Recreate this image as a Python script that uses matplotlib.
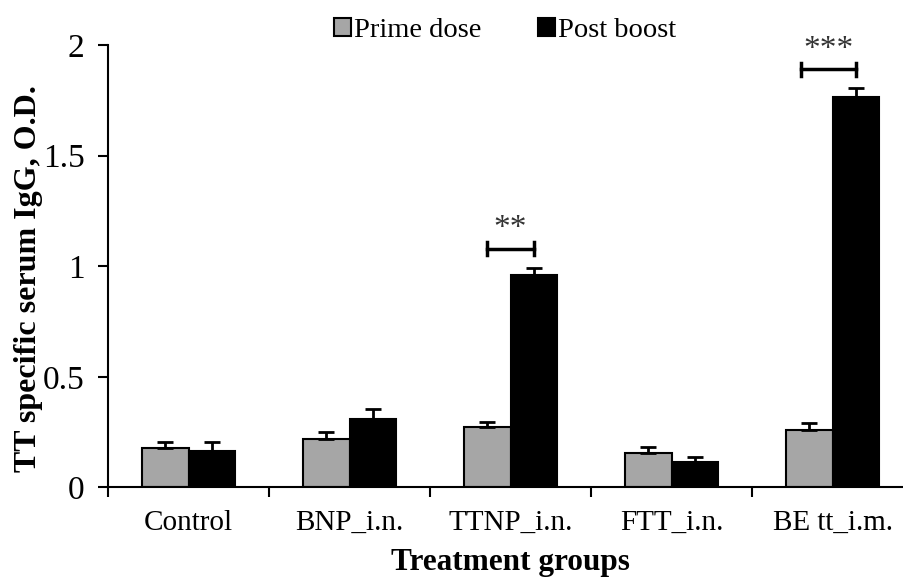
import numpy as np
import matplotlib.pyplot as plt

plt.rcParams['font.family'] = ['Liberation Serif', 'DejaVu Serif']

### data
groups = ['Control', 'BNP_i.n.', 'TTNP_i.n.', 'FTT_i.n.', 'BE tt_i.m.']
prime_dose = [0.18, 0.22, 0.272, 0.154, 0.26]
prime_err = [0.025, 0.033, 0.025, 0.027, 0.03]
post_boost = [0.166, 0.308, 0.962, 0.116, 1.767]
post_err = [0.038, 0.046, 0.028, 0.023, 0.038]
sig_groups = [2, 4]
sig_labels = ['**', '***']
sig_heights = [1.08, 1.89]

fig = plt.figure(figsize=(9.04, 5.78), dpi=100)
ax = fig.add_axes([0.1195, 0.1566, 0.8905, 0.7656])

x = np.arange(len(groups))
w = 0.29

b1 = ax.bar(x - w/2, prime_dose, w, color='#A6A6A6', edgecolor='black',
            linewidth=1.5, label='Prime dose', zorder=2)
b2 = ax.bar(x + w/2, post_boost, w, color='black', edgecolor='black',
            linewidth=1.5, label='Post boost', zorder=2)

# upper error bars only
ax.errorbar(x - w/2, prime_dose, yerr=[np.zeros(len(x)), prime_err], fmt='none',
            ecolor='black', elinewidth=2, capsize=6, capthick=2, zorder=3)
ax.errorbar(x + w/2, post_boost, yerr=[np.zeros(len(x)), post_err], fmt='none',
            ecolor='black', elinewidth=2, capsize=6, capthick=2, zorder=3)

# significance brackets
for g, lab, h in zip(sig_groups, sig_labels, sig_heights):
    x0 = g - w/2 - (0.05 if g == 4 else 0.0)
    x1 = g + w/2
    ax.plot([x0, x1], [h, h], color='black', lw=2.5, clip_on=False)
    ax.plot([x0, x0], [h - 0.03, h + 0.03], color='black', lw=2.5, clip_on=False)
    ax.plot([x1, x1], [h - 0.03, h + 0.03], color='black', lw=2.5, clip_on=False)
    ax.text((x0 + x1)/2, h + 0.02, lab, ha='center', va='bottom', fontsize=24,
            color='#333333')

ax.set_xlim(-0.5, len(groups) - 0.5)
ax.set_ylim(0, 2)
ax.set_yticks([0, 0.5, 1, 1.5, 2])
ax.set_yticklabels(['0', '0.5', '1', '1.5', '2'])
ax.set_xticks(np.arange(-0.5, len(groups), 1))
ax.set_xticklabels([])
ax.set_xticks(x, minor=True)
ax.set_xticklabels(groups, minor=True)
ax.tick_params(axis='x', which='minor', length=0, pad=16, labelsize=21)
ax.tick_params(axis='x', which='major', direction='out', length=7, width=1.5)
ax.tick_params(axis='y', direction='out', length=7, width=1.5, pad=10, labelsize=24)

for s in ['top', 'right']:
    ax.spines[s].set_visible(False)
for s in ['left', 'bottom']:
    ax.spines[s].set_linewidth(1.5)

ax.set_xlabel('Treatment groups', fontsize=22.5, fontweight='bold', labelpad=9)
ax.set_ylabel('TT specific serum IgG, O.D.', fontsize=23, fontweight='bold')
ax.yaxis.set_label_coords(-0.081, 0.472)

fig.legend(handles=[b1, b2], loc='upper center', bbox_to_anchor=(505/904, 1.014),
           ncol=2, frameon=False, fontsize=20.5, handlelength=0.6, handleheight=0.6,
           handletextpad=0.1, columnspacing=2.0)

plt.savefig('out.png', dpi=100)
